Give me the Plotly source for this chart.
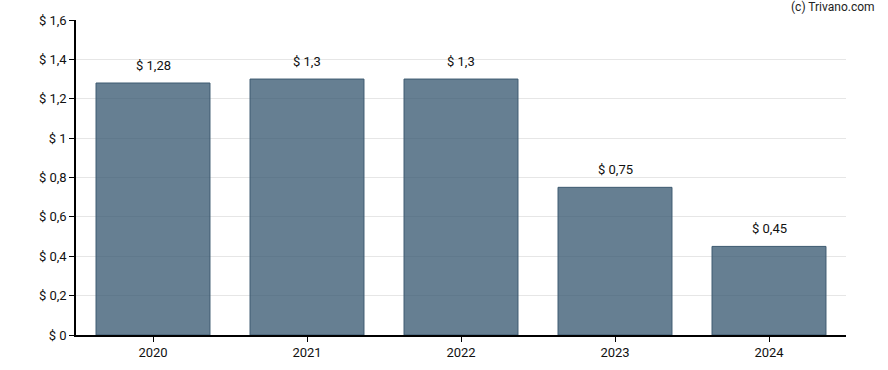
import plotly.graph_objects as go

years = ["2020", "2021", "2022", "2023", "2024"]
values = [1.28, 1.3, 1.3, 0.75, 0.45]
labels = ["$ 1,28", "$ 1,3", "$ 1,3", "$ 0,75", "$ 0,45"]
y_ticks = [0, 0.2, 0.4, 0.6, 0.8, 1.0, 1.2, 1.4, 1.6]
y_tick_text = ["$ 0", "$ 0,2", "$ 0,4", "$ 0,6", "$ 0,8", "$ 1", "$ 1,2", "$ 1,4", "$ 1,6"]

fig = go.Figure()
fig.add_trace(go.Bar(
    x=years, y=values,
    marker=dict(color="rgba(48,82,108,0.74)", line=dict(color="#3d5a70", width=1)),
    hoverinfo="skip",
))
for i, (v, t) in enumerate(zip(values, labels)):
    fig.add_annotation(x=i, y=v, text=t, showarrow=False, yanchor="bottom", yshift=8,
                       font=dict(family="Roboto", size=13, color="#111"))

fig.add_annotation(xref="paper", yref="paper", x=1.0, y=1.0, xanchor="right", yanchor="bottom",
                   text="(c) Trivano.com", showarrow=False, xshift=31, yshift=4,
                   font=dict(family="Roboto", size=12, color="#222"))

fig.update_layout(
    width=888, height=370,
    margin=dict(l=76, r=42, t=20, b=35, autoexpand=False),
    paper_bgcolor="white", plot_bgcolor="white",
    bargap=0.26,
    showlegend=False,
    font=dict(family="Roboto", size=13, color="#111"),
)
fig.update_xaxes(
    type="category", range=[-0.5, len(years) - 0.5],
    showline=True, linecolor="black", linewidth=1.5,
    ticks="outside", ticklen=5, tickcolor="black",
    showgrid=False, tickfont=dict(size=13),
)
fig.update_yaxes(
    range=[0, 1.6], tickvals=y_ticks, ticktext=y_tick_text,
    showline=True, linecolor="black", linewidth=1.5,
    ticks="outside", ticklen=5, tickcolor="black",
    showgrid=True, gridcolor="#e6e6e6", gridwidth=1,
    zeroline=False, tickfont=dict(size=13),
)

fig.write_html("out.html", config={"displayModeBar": False},
               post_script="document.body.style.margin='0';")
